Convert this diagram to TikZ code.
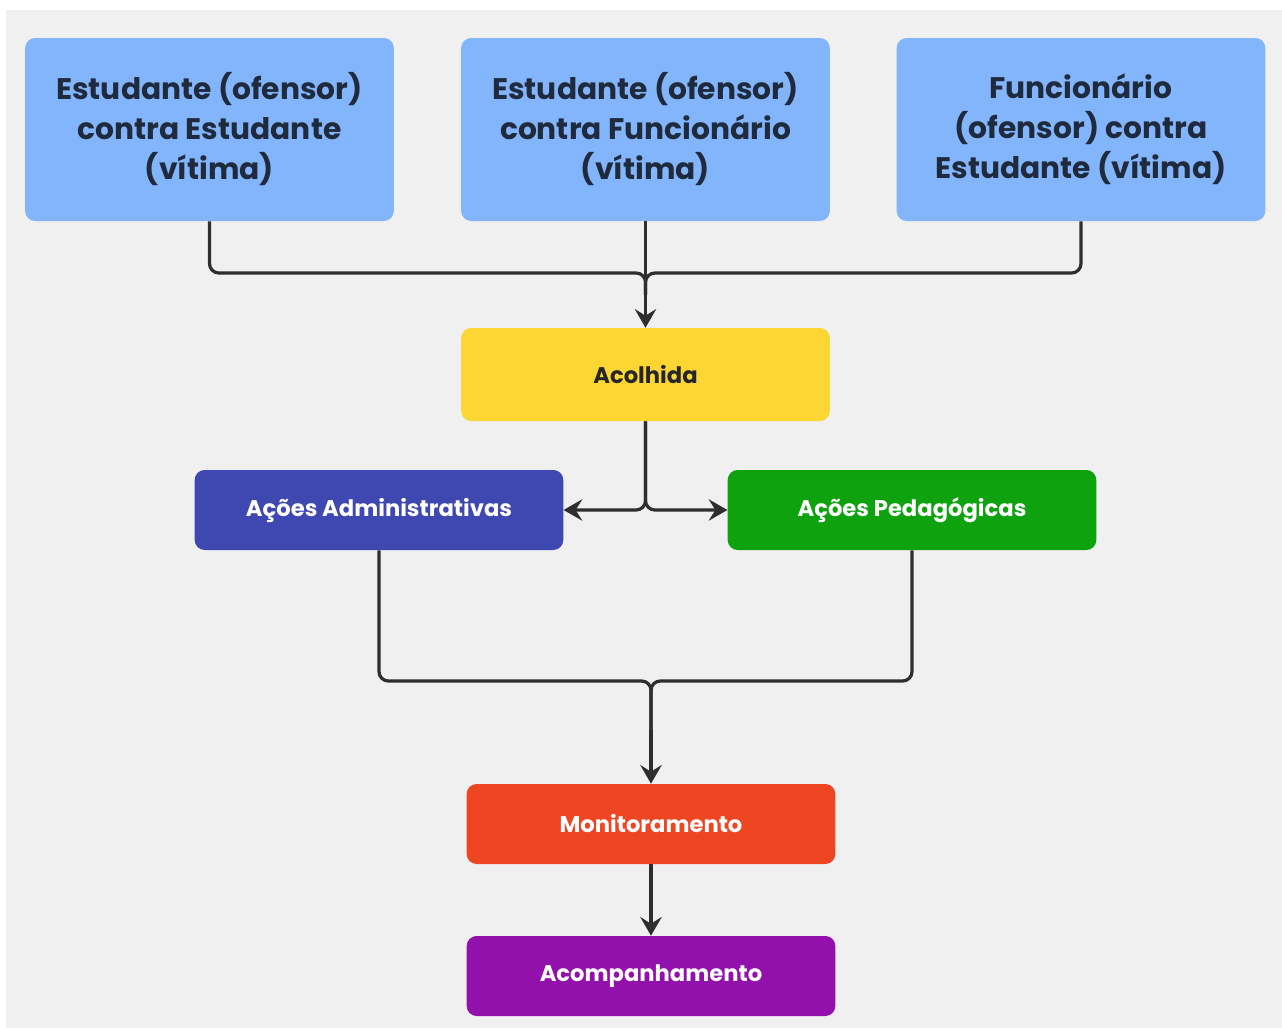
\documentclass[tikz,border=0pt]{standalone}
\usepackage{fontspec}
\setmainfont{Poppins}
\usetikzlibrary{arrows.meta}
\definecolor{bgray}{HTML}{F0F0F0}
\definecolor{lblue}{HTML}{83B5FC}
\definecolor{cyel}{HTML}{FCD734}
\definecolor{cblue}{HTML}{3F47B0}
\definecolor{cgreen}{HTML}{0EA30E}
\definecolor{cred}{HTML}{EE4522}
\definecolor{cpurp}{HTML}{9210AB}
\definecolor{tnavy}{HTML}{1F2A3D}
\definecolor{lcol}{HTML}{2E2E2E}
\tikzset{
  box/.style={rectangle, rounded corners=7.5pt, minimum width=276.5pt, inner sep=0pt, align=center, font=\bfseries},
  topbox/.style={box, fill=lblue, minimum height=137.25pt, text=tnavy, font=\fontsize{22.3}{30}\selectfont\bfseries},
  midbox/.style={box, minimum height=60pt, text=white, font=\fontsize{17}{20}\selectfont\bfseries},
  conn/.style={draw=lcol, line width=2.4pt, rounded corners=7pt},
  tip/.style={-{Stealth[length=14pt,width=16pt,inset=5pt]}}
}
\begin{document}
\begin{tikzpicture}[x=0.75pt,y=-0.75pt]
\useasboundingbox (0,0) rectangle (1282,1028);
\fill[white] (0,0) rectangle (1282,1028);
\fill[bgray] (6,10) rectangle (1282,1028);

\node[topbox] (b1) at (209.5,129.5) {Estudante (ofensor)\\contra Estudante\\(vítima)};
\node[topbox] (b2) at (645.5,129.5) {Estudante (ofensor)\\contra Funcionário\\(vítima)};
\node[topbox] (b3) at (1081,129.5) {Funcionário\\(ofensor) contra\\Estudante (vítima)};

\node[box, fill=cyel, minimum height=69.75pt, text=black!85, font=\fontsize{17}{20}\selectfont\bfseries] (aco) at (645.5,374.5) {Acolhida};

\node[midbox, fill=cblue] (adm) at (379,510) {Ações Administrativas};
\node[midbox, fill=cgreen] (ped) at (912,510) {Ações Pedagógicas};

\node[midbox, fill=cred] (mon) at (651,824) {Monitoramento};
\node[midbox, fill=cpurp] (acp) at (651,976) {Acompanhamento};

\coordinate (j1) at (645.5,273);
\coordinate (j1e) at (645.5,295);
\coordinate (j2) at (651,681);
\coordinate (j2e) at (651,730);

\draw[conn] (b1.south) |- (j1) -- (j1e);
\draw[conn] (b3.south) |- (j1) -- (j1e);
\draw[conn, tip] (b2.south) -- (aco.north);

\draw[conn, tip] (aco.south) |- (adm.east);
\draw[conn, tip] (aco.south) |- (ped.west);

\draw[conn] (adm.south) |- (j2) -- (j2e);
\draw[conn] (ped.south) |- (j2) -- (j2e);
\draw[conn, tip] (j2e) -- (mon.north);

\draw[conn, tip] (mon.south) -- (acp.north);
\end{tikzpicture}
\end{document}
